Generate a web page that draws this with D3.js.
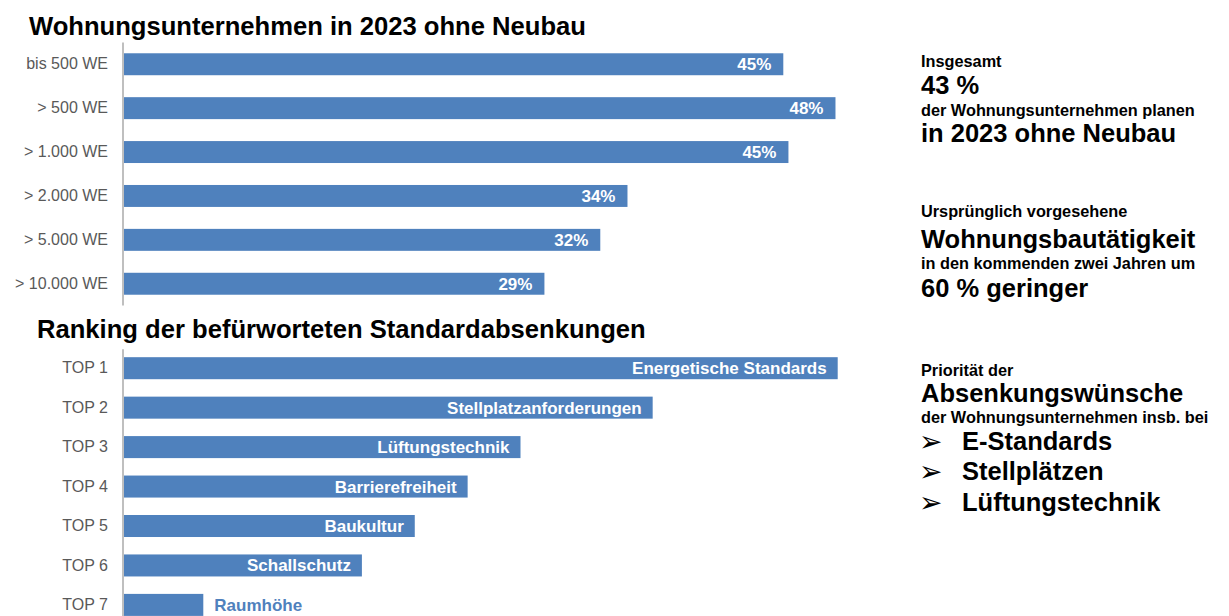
<!DOCTYPE html>
<html>
<head>
<meta charset="utf-8">
<script src="https://cdn.jsdelivr.net/npm/d3@7/dist/d3.min.js"></script>
<style>
  html, body { margin: 0; padding: 0; background: #fff; }
  svg { display: block; font-family: "Liberation Sans", Arial, Helvetica, sans-serif; }
</style>
</head>
<body>
<svg id="chart" width="1229" height="616"></svg>
<script>
// ---- Data ----
const title1 = "Wohnungsunternehmen in 2023 ohne Neubau";
const sizeCategories = ["bis 500 WE", "> 500 WE", "> 1.000 WE", "> 2.000 WE", "> 5.000 WE", "> 10.000 WE"];
const sizeValues = [44.85, 48.4, 45.2, 34.25, 32.4, 28.6];
const sizeLabels = ["45%", "48%", "45%", "34%", "32%", "29%"];

const title2 = "Ranking der befürworteten Standardabsenkungen";
const rankCategories = ["TOP 1", "TOP 2", "TOP 3", "TOP 4", "TOP 5", "TOP 6", "TOP 7"];
const rankValues = [27, 20, 15, 13, 11, 9, 3];
const rankLabels = ["Energetische Standards", "Stellplatzanforderungen", "Lüftungstechnik", "Barrierefreiheit", "Baukultur", "Schallschutz", "Raumhöhe"];

const noteLines1 = [
  {t: "Insgesamt", big: false},
  {t: "43 %", big: true},
  {t: "der Wohnungsunternehmen planen", big: false},
  {t: "in 2023 ohne Neubau", big: true}
];
const noteLines2 = [
  {t: "Ursprünglich vorgesehene", big: false},
  {t: "Wohnungsbautätigkeit", big: true},
  {t: "in den kommenden zwei Jahren um", big: false},
  {t: "60 % geringer", big: true}
];
const noteLines3 = [
  {t: "Priorität der", big: false},
  {t: "Absenkungswünsche", big: true},
  {t: "der Wohnungsunternehmen insb. bei", big: false}
];
const bulletItems = ["E-Standards", "Stellplätzen", "Lüftungstechnik"];

// ---- Styles ----
const barColor = "#4f81bd";
const axisColor = "#bfbfbf";
const catColor = "#595959";

const svg = d3.select("#chart");

// ---- Titles ----
svg.append("text").attr("x", 29).attr("y", 34.5)
  .attr("font-size", 25.6).attr("font-weight", "bold").attr("fill", "#000").text(title1);
svg.append("text").attr("x", 37).attr("y", 338)
  .attr("font-size", 25.6).attr("font-weight", "bold").attr("fill", "#000").text(title2);

// ---- Helper to draw a horizontal bar chart ----
function drawBars(cfg) {
  const g = svg.append("g");
  const y = d3.scaleBand().domain(cfg.categories).range(cfg.yRange)
    .paddingInner(cfg.padInner).paddingOuter(cfg.padOuter);
  const x = d3.scaleLinear().domain(cfg.xDomain).range(cfg.xRange);

  const data = cfg.categories.map((c, i) => ({c, v: cfg.values[i], l: cfg.labels[i]}));

  g.selectAll("rect.bar").data(data).join("rect")
    .attr("class", "bar")
    .attr("x", x(0))
    .attr("y", d => y(d.c))
    .attr("width", d => x(d.v) - x(0))
    .attr("height", y.bandwidth())
    .attr("fill", barColor);

  const axis = d3.axisLeft(y).tickSize(0).tickPadding(15);
  const ag = g.append("g").attr("transform", `translate(${x(0) - 1},0)`).call(axis);
  ag.select(".domain").remove();
  ag.selectAll("text").attr("font-size", 16).attr("fill", catColor)
    .attr("font-family", "\"Liberation Sans\", Arial, sans-serif");
  g.append("line")
    .attr("x1", x(0) - 1).attr("x2", x(0) - 1)
    .attr("y1", cfg.axisY[0]).attr("y2", cfg.axisY[1])
    .attr("stroke", axisColor).attr("stroke-width", 2);

  const lbl = g.selectAll("text.val").data(data).join("text")
    .attr("class", "val")
    .attr("y", d => y(d.c) + y.bandwidth() / 2)
    .attr("dy", "0.35em")
    .attr("font-size", 17).attr("font-weight", "bold")
    .text(d => d.l);
  lbl.each(function(d) {
    const w = this.getComputedTextLength();
    const bw = x(d.v) - x(0);
    const t = d3.select(this);
    if (w + 2 * cfg.inset > bw) {
      t.attr("x", x(d.v) + cfg.inset).attr("text-anchor", "start").attr("fill", barColor);
    } else {
      t.attr("x", x(d.v) - cfg.inset).attr("text-anchor", "end").attr("fill", "#fff");
    }
  });
}

drawBars({
  categories: sizeCategories, values: sizeValues, labels: sizeLabels,
  yRange: [42.3, 305.7], padInner: 0.5, padOuter: 0.25,
  xDomain: [0, 50], xRange: [124, 124 + 50 * 14.7],
  axisY: [42.5, 305.5], inset: 12
});

drawBars({
  categories: rankCategories, values: rankValues, labels: rankLabels,
  yRange: [349.3, 623.8], padInner: 0.442, padOuter: 0.2,
  xDomain: [0, 27], xRange: [124, 837.7],
  axisY: [349.3, 616], inset: 11
});

// ---- Right-hand notes ----
function drawNotes(lines, baselines) {
  lines.forEach((ln, i) => {
    svg.append("text").attr("x", 921).attr("y", baselines[i])
      .attr("font-size", ln.big ? 25.5 : 16.3).attr("font-weight", "bold")
      .attr("fill", "#000").text(ln.t);
  });
}
drawNotes(noteLines1, [67, 93.5, 116, 142]);
drawNotes(noteLines2, [217, 248, 269, 297]);
drawNotes(noteLines3, [376, 402, 423]);

const bulletBase = [449.5, 480, 510.5];
bulletItems.forEach((b, i) => {
  svg.append("text").attr("x", 919).attr("y", bulletBase[i] + 1)
    .attr("font-family", "\"DejaVu Sans\", sans-serif")
    .attr("font-size", 28).attr("fill", "#000").text("\u27A2");
  svg.append("text").attr("x", 962).attr("y", bulletBase[i])
    .attr("font-size", 25.5).attr("font-weight", "bold").attr("fill", "#000").text(b);
});
</script>
</body>
</html>
